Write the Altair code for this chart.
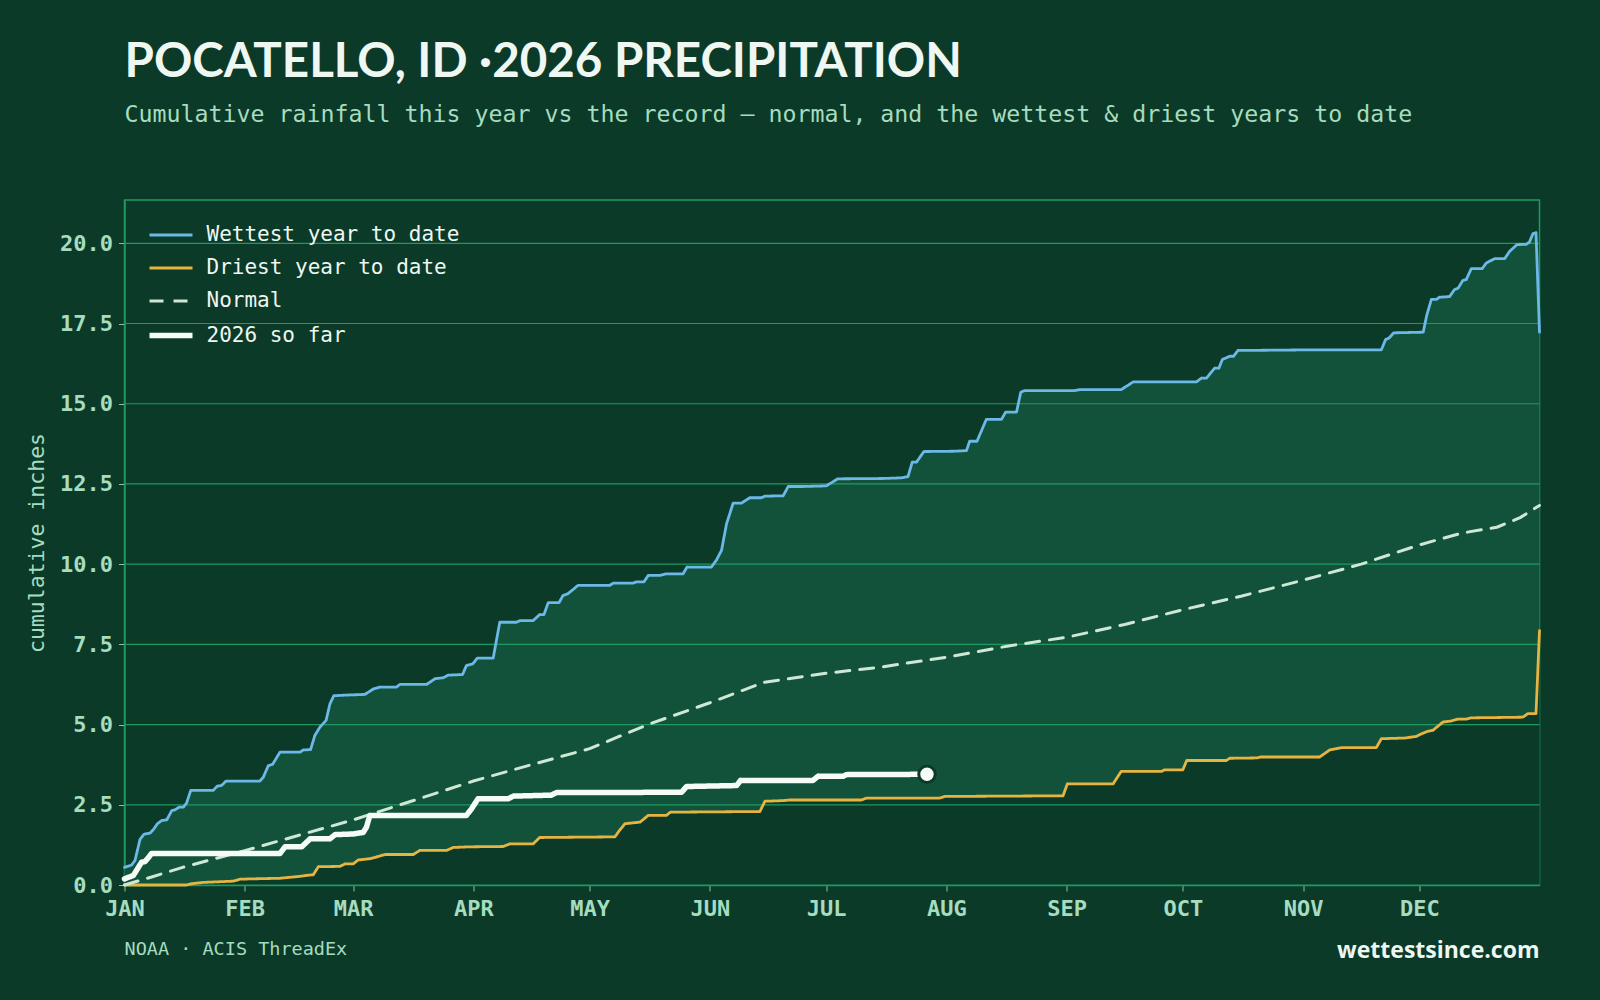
import altair as alt
import pandas as pd

# ---------------- data ----------------
SERIES = ["Wettest year to date", "Driest year to date", "Normal", "2026 so far"]

wet_day = [0, 1.8, 2.7, 4, 5, 6.6, 7.4, 8.5, 9.6, 10.9, 12.2, 13, 14.1, 15.2, 16, 17.1, 22.9, 23.9, 25, 26.2,
           34.9, 35.8, 37.1, 38.2, 40.1, 45.3, 46.1, 48, 49.1, 50.4, 52, 53, 54, 57.3, 62, 64.2, 65.9, 70.2,
           71, 77.9, 80.1, 82.2, 83.5, 87.2, 88.2, 89.8, 91, 95.1, 96.8, 101.1, 102, 105.4, 107.1, 108.2,
           109.3, 112.1, 113.1, 114.4, 117, 125.2, 126.1, 131.2, 132.1, 134, 135.1, 138.1, 139.8, 144.1,
           145.1, 151.4, 152.7, 154, 155.3, 157, 159.1, 161.3, 164.3, 165.2, 169.9, 171.2, 175, 181, 184,
           195.7, 200.4, 202.1, 203.2, 204.3, 206.2, 214.2, 217.2, 218, 219.9, 222.3, 226.2, 227.3, 230.1,
           231.2, 232.2, 245.1, 246.4, 257.1, 260.2, 276.5, 277.8, 279.1, 281.2, 282.3, 283.2, 285.1, 286.1,
           287.2, 306.6, 324.2, 325.3, 326.2, 327.4, 335, 335.9, 337.1, 338.4, 339.2, 341.8, 343.1, 344,
           345.2, 346.1, 347.4, 350.2, 351.3, 353.4, 356, 357.3, 359.2, 361.6, 362.4, 363.3, 364.1, 365]
wet_val = [0.55, 0.62, 0.76, 1.42, 1.58, 1.62, 1.72, 1.91, 2.01, 2.03, 2.32, 2.34, 2.43, 2.43, 2.55, 2.95, 2.95,
           3.08, 3.10, 3.24, 3.24, 3.36, 3.72, 3.76, 4.14, 4.14, 4.21, 4.22, 4.66, 4.92, 5.13, 5.65, 5.90,
           5.92, 5.94, 6.11, 6.17, 6.17, 6.25, 6.25, 6.43, 6.46, 6.54, 6.56, 6.84, 6.89, 7.07, 7.07, 8.19,
           8.19, 8.24, 8.24, 8.43, 8.43, 8.80, 8.80, 9.02, 9.08, 9.34, 9.34, 9.41, 9.41, 9.45, 9.45, 9.65,
           9.65, 9.70, 9.70, 9.91, 9.91, 10.13, 10.43, 11.26, 11.90, 11.90, 12.07, 12.07, 12.12, 12.13,
           12.42, 12.42, 12.44, 12.66, 12.67, 12.69, 12.73, 13.18, 13.18, 13.51, 13.52, 13.54, 13.83, 13.83,
           14.51, 14.51, 14.74, 14.74, 15.36, 15.41, 15.41, 15.44, 15.44, 15.68, 15.68, 15.80, 15.80, 16.11,
           16.11, 16.38, 16.48, 16.48, 16.66, 16.68, 16.68, 17.00, 17.05, 17.21, 17.23, 17.75, 18.25, 18.25,
           18.32, 18.34, 18.56, 18.60, 18.84, 18.87, 19.21, 19.21, 19.39, 19.52, 19.52, 19.75, 19.96, 19.97,
           20.04, 20.30, 20.33, 17.23]

dry_day = [0, 16, 17.3, 20.3, 28.1, 29.8, 32.4, 40.1, 45.3, 47, 48.7, 50, 55.6, 56.9, 59, 60.3, 63.3, 65.5,
           67.2, 74.5, 76.2, 83.1, 84.8, 89, 97.7, 99.4, 105.4, 107.1, 126.5, 127.8, 129.1, 133, 135.1,
           139.8, 140.8, 163.9, 165.2, 169.9, 171.6, 190.1, 191.4, 210.3, 211.6, 242.1, 243.2, 255, 257.1,
           267.5, 268.3, 273, 274, 284.2, 285.1, 292, 293.2, 308.3, 310.9, 313.9, 322.9, 324.2, 330.2,
           333.2, 334.5, 336.2, 337.5, 340.1, 342.2, 343.9, 346.1, 347.4, 360.7, 362, 364.1, 365]
dry_val = [0.0, 0.0, 0.04, 0.08, 0.12, 0.18, 0.19, 0.21, 0.27, 0.30, 0.32, 0.57, 0.58, 0.66, 0.66, 0.78, 0.82,
           0.89, 0.95, 0.95, 1.08, 1.08, 1.17, 1.19, 1.20, 1.28, 1.28, 1.48, 1.50, 1.72, 1.91, 1.96, 2.17,
           2.17, 2.27, 2.29, 2.61, 2.63, 2.65, 2.65, 2.71, 2.71, 2.76, 2.78, 3.15, 3.15, 3.54, 3.54, 3.59,
           3.59, 3.88, 3.88, 3.95, 3.96, 3.99, 3.99, 4.21, 4.28, 4.28, 4.56, 4.58, 4.63, 4.71, 4.79, 4.82,
           5.08, 5.11, 5.17, 5.17, 5.21, 5.23, 5.34, 5.34, 7.93]

norm_day = [0, 7, 15, 31, 45, 59, 75, 90, 105, 120, 135, 151, 165, 181, 195, 212, 228, 243, 258, 273, 288,
            304, 319, 334, 345, 354, 360, 365]
norm_val = [0.0, 0.25, 0.55, 1.07, 1.55, 2.03, 2.65, 3.24, 3.75, 4.25, 5.0, 5.68, 6.32, 6.60, 6.79, 7.10,
            7.45, 7.72, 8.12, 8.58, 9.0, 9.5, 10.0, 10.6, 10.97, 11.15, 11.45, 11.83]

cur_day = [0, 2.3, 4.4, 5.3, 7, 40.1, 41.4, 45.7, 47.9, 53, 54.3, 59, 61.6, 62.4, 63.3, 88.2, 89.5, 91.2, 99,
           100.3, 110.1, 111.4, 143.7, 145, 157.9, 158.9, 177.6, 178.9, 185.4, 186.2, 207]
cur_val = [0.19, 0.30, 0.71, 0.73, 0.98, 0.98, 1.19, 1.19, 1.44, 1.44, 1.57, 1.59, 1.64, 1.80, 2.17, 2.17,
           2.37, 2.69, 2.69, 2.77, 2.80, 2.88, 2.89, 3.07, 3.10, 3.26, 3.26, 3.39, 3.39, 3.44, 3.45]

month_starts = [0, 31, 59, 90, 120, 151, 181, 212, 243, 273, 304, 334]
month_labels = ["JAN", "FEB", "MAR", "APR", "MAY", "JUN", "JUL", "AUG", "SEP", "OCT", "NOV", "DEC"]
y_ticks = [0, 2.5, 5, 7.5, 10, 12.5, 15, 17.5, 20]

TITLE = "POCATELLO, ID \u00b72026 PRECIPITATION"
SUBTITLE = "Cumulative rainfall this year vs the record \u2014 normal, and the wettest & driest years to date"
SOURCE = "NOAA \u00b7 ACIS ThreadEx"
BRAND = "wettestsince.com"

# ---------------- styling ----------------
BG = "#0b3a29"
BAND = "#13523a"
GRID = "#1e9a60"
LABEL = "#a6dcbf"
TEXT = "#eef7f1"
MONO = "DejaVu Sans Mono"

W, H = 1415, 685

frames = []
for name, d, v in [(SERIES[0], wet_day, wet_val), (SERIES[1], dry_day, dry_val),
                   (SERIES[2], norm_day, norm_val), (SERIES[3], cur_day, cur_val)]:
    frames.append(pd.DataFrame({"day": d, "inches": v, "series": name}))
df = pd.concat(frames, ignore_index=True)

label_expr = "[" + ",".join("'%s'" % m for m in month_labels) + "][indexof([" + \
    ",".join(str(m) for m in month_starts) + "], datum.value)]"

x_enc = alt.X("day:Q",
              scale=alt.Scale(domain=[0, 365], nice=False, zero=False),
              axis=alt.Axis(values=month_starts, labelExpr=label_expr, title=None, grid=False,
                            labelFlush=False, labelOverlap=False, labelFont=MONO, labelFontWeight="bold",
                            labelFontSize=22, labelColor=LABEL, labelPadding=7, tickSize=6,
                            tickColor="#8fbfa4", domainColor=GRID, domainWidth=1.5))
y_enc = alt.Y("inches:Q",
              scale=alt.Scale(domain=[0, 21.35], nice=False, zero=True),
              axis=alt.Axis(values=y_ticks, format=".1f", title="cumulative inches", grid=False,
                            labelFont=MONO, labelFontWeight="bold", labelFontSize=22, labelColor=LABEL,
                            labelPadding=6, tickSize=6, tickColor="#8fbfa4", domainColor=GRID,
                            domainWidth=1.5, titleFont=MONO, titleFontWeight="normal", titleFontSize=21.5,
                            titleColor=LABEL, titlePadding=11))

leg = alt.Legend(title=None, orient="none", legendX=22, legendY=12, symbolType="stroke",
                 symbolSize=1849, labelFont=MONO, labelFontSize=21, labelColor=TEXT, labelOffset=11,
                 rowPadding=0, labelLimit=600)

color_enc = alt.Color("series:N", scale=alt.Scale(domain=SERIES,
                      range=["#6cb8e6", "#e6b443", "#cfe8d6", "#f5fbf6"]), legend=leg)
dash_enc = alt.StrokeDash("series:N", scale=alt.Scale(domain=SERIES,
                          range=[[1, 0], [1, 0], [14, 10], [1, 0]]), legend=leg)
width_enc = alt.StrokeWidth("series:N", scale=alt.Scale(type="ordinal", domain=SERIES,
                            range=[2.8, 2.8, 3, 5.5]), legend=leg)

wet_area = alt.Chart(df).transform_filter(alt.datum.series == SERIES[0]).mark_area(
    color=BAND, opacity=1).encode(x=x_enc, y=y_enc)
dry_area = alt.Chart(df).transform_filter(alt.datum.series == SERIES[1]).mark_area(
    color=BG, opacity=1).encode(x=x_enc, y=y_enc)

grid = alt.Chart(pd.DataFrame({"inches": y_ticks})).mark_rule(
    color=GRID, strokeWidth=1.2).encode(y=y_enc)

line_layers = []
for s in SERIES:
    line_layers.append(
        alt.Chart(df).transform_filter(alt.datum.series == s).mark_line(
            strokeCap="round", strokeJoin="round").encode(
            x=x_enc, y=y_enc, color=color_enc, strokeDash=dash_enc, strokeWidth=width_enc,
            order="day:Q"))

last = pd.DataFrame({"day": [cur_day[-1]], "inches": [cur_val[-1]]})
dot = alt.Chart(last).mark_point(filled=True, shape="circle", size=270, fill="#f5fbf6",
                                 stroke=BG, strokeWidth=3, opacity=1).encode(x=x_enc, y=y_enc)

src = alt.Chart(pd.DataFrame({"t": [SOURCE]})).mark_text(
    font=MONO, fontSize=18.5, color=LABEL, align="left", baseline="alphabetic").encode(
    text="t:N", x=alt.value(0), y=alt.value(755))
brand = alt.Chart(pd.DataFrame({"t": [BRAND]})).mark_text(
    font="Open Sans", fontWeight="bold", fontSize=23, color=TEXT, align="right",
    baseline="alphabetic").encode(text="t:N", x=alt.value(W), y=alt.value(758))

chart = alt.layer(wet_area, dry_area, grid, *line_layers, dot, src, brand).properties(
    width=W, height=H,
    background=BG,
    padding={"left": 124.5, "top": 200, "right": 60.5, "bottom": 115},
    autosize=alt.AutoSizeParams(type="none"),
    title=alt.TitleParams(TITLE, subtitle=SUBTITLE, anchor="start", frame="group", font="Lato",
                          fontSize=47.5, fontWeight="bold", color=TEXT, subtitleFont=MONO,
                          subtitleFontSize=23.25, subtitleColor=LABEL, offset=74, subtitlePadding=17),
).configure_view(stroke=GRID, strokeWidth=1.5)

chart.save("out.html", embed_options={"renderer": "svg", "actions": False})
